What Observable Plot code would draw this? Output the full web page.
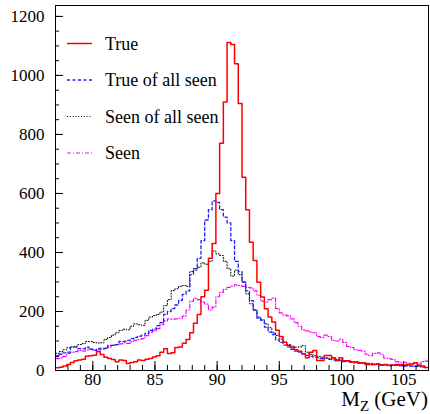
<!DOCTYPE html>
<html><head><meta charset="utf-8">
<script src="https://cdn.jsdelivr.net/npm/d3@7"></script>
<script src="https://cdn.jsdelivr.net/npm/@observablehq/plot@0.6"></script>
<style>
body{margin:0;background:#fff}
#chart{width:430px;height:414px}
</style>
</head><body><div id="chart"></div>
<script>
// Histogram binning: 100 bins from 77 to 107 GeV
const xStart = 77, xEnd = 107, binWidth = 0.3;

const trueVals = [
  9, 11, 15, 20, 27, 33, 36, 38, 48, 50,
  52, 64, 54, 45, 41, 37, 30, 36, 34, 24,
  27, 30, 36, 34, 38, 41, 46, 50, 62, 74,
  58, 60, 78, 80, 92, 105, 128, 160, 190, 250,
  272, 380, 430, 600, 770, 910, 1112, 1105, 1040, 905,
  655, 545, 435, 373, 299, 249, 209, 181, 164, 136,
  115, 96, 85, 79, 70, 65, 56, 43, 62, 68,
  34, 34, 51, 51, 43, 34, 43, 33, 33, 28,
  28, 25, 25, 20, 20, 20, 22, 18, 20, 18,
  18, 20, 20, 18, 20, 22, 26, 18, 15, 10
];
const trueOfSeenVals = [
  47, 55, 60, 62, 79, 79, 74, 74, 79, 72,
  68, 74, 76, 74, 85, 85, 88, 99, 99, 102,
  108, 112, 116, 120, 126, 136, 140, 152, 162, 190,
  200, 210, 222, 238, 258, 270, 325, 345, 380, 440,
  510, 545, 575, 570, 545, 520, 500, 440, 370, 335,
  300, 270, 237, 205, 178, 170, 147, 130, 122, 104,
  95, 86, 80, 72, 66, 62, 57, 51, 48, 45,
  44, 40, 42, 38, 36, 33, 34, 30, 30, 28,
  26, 24, 26, 22, 22, 20, 22, 18, 20, 16,
  18, 18, 16, 15, 17, 15, 14, 16, 12, 10
];
const seenOfSeenVals = [
  58, 64, 70, 77, 80, 82, 88, 91, 98, 98,
  95, 93, 94, 105, 112, 120, 128, 136, 140, 138,
  150, 158, 155, 153, 170, 181, 186, 190, 198, 220,
  240, 271, 277, 285, 288, 285, 335, 340, 350, 365,
  360, 370, 405, 395, 390, 370, 345, 320, 340, 325,
  300, 260, 226, 205, 181, 172, 158, 145, 128, 119,
  107, 96, 88, 83, 79, 80, 84, 62, 55, 50,
  48, 45, 42, 40, 40, 38, 36, 34, 32, 30,
  30, 28, 26, 25, 24, 22, 20, 20, 18, 18,
  20, 18, 17, 16, 16, 15, 14, 13, 12, 10
];
const seenVals = [
  40, 42, 48, 58, 62, 64, 68, 66, 70, 72,
  70, 70, 72, 77, 80, 85, 88, 90, 94, 92,
  98, 102, 105, 108, 118, 130, 134, 142, 155, 168,
  175, 174, 175, 177, 184, 205, 235, 245, 240, 232,
  225, 205, 215, 250, 265, 275, 282, 286, 290, 288,
  285, 282, 280, 270, 255, 235, 232, 240, 245, 210,
  195, 188, 185, 175, 162, 150, 138, 134, 130, 128,
  115, 112, 120, 115, 102, 100, 106, 95, 82, 78,
  70, 68, 66, 55, 50, 58, 60, 55, 42, 40,
  38, 30, 28, 28, 25, 22, 24, 22, 30, 32
];

const seriesNames = ["True", "True of all seen", "Seen of all seen", "Seen"];
const seriesColors = ["#ff0000", "#2020ff", "#000000", "#ff00ff"];
const seriesDash = [null, "3,2.5", "1,1.8", "4,2,1,2"];
const seriesWidth = [1.5, 1.3, 1, 1.2];

const xMajorTicks = [80, 85, 90, 95, 100, 105];
const xMinorTicks = d3.range(77, 108, 1);
const yMajorTicks = [0, 200, 400, 600, 800, 1000, 1200];
const yMinorTicks = d3.range(0, 1236, 50);
const xLabelMain = "M", xLabelSub = "Z", xLabelUnit = " (GeV)";

function histPoints(values) {
  const pts = values.map((v, i) => ({x: xStart + i * binWidth, y: v}));
  pts.push({x: xEnd, y: values[values.length - 1]});
  return pts;
}
const allValues = [trueVals, trueOfSeenVals, seenOfSeenVals, seenVals];

const lineMarks = [3, 2, 1, 0].map(s => Plot.line(histPoints(allValues[s]), {
  x: "x", y: "y", curve: "step-after",
  stroke: seriesColors[s], strokeWidth: seriesWidth[s],
  strokeDasharray: seriesDash[s]
}));

const FONT = "Liberation Serif";
const chart = Plot.plot({
  width: 430, height: 414,
  marginLeft: 55, marginRight: 2, marginTop: 5, marginBottom: 44,
  x: {domain: [xStart, xEnd]},
  y: {domain: [0, 1237]},
  style: {background: "#fff", color: "#000"},
  marks: [
    ...lineMarks,
    Plot.axisY({ticks: yMajorTicks, tickSize: 0, tickPadding: 11, tickFormat: d => String(d), label: null, fontSize: 17}),
    Plot.axisY({ticks: yMajorTicks, tickSize: -8, text: null, label: null}),
    Plot.axisY({ticks: yMinorTicks, tickSize: -4, text: null, label: null}),
    Plot.axisX({ticks: xMajorTicks, tickSize: 0, tickPadding: 2, tickFormat: d => String(d), label: null, fontSize: 17}),
    Plot.axisX({ticks: xMajorTicks, tickSize: -9, text: null, label: null}),
    Plot.axisX({ticks: xMinorTicks, tickSize: -5, text: null, label: null}),
    Plot.frame({stroke: "#000", strokeWidth: 1})
  ]
});
document.getElementById("chart").appendChild(chart);

// Legend (inside plot, top-left) and axis title
const svg = d3.select(chart);
const leg = svg.append("g").attr("text-anchor", "start");
const rowY = [43.5, 80, 116.5, 153];
seriesNames.forEach((name, i) => {
  leg.append("line").attr("x1", 67).attr("x2", 92).attr("y1", rowY[i]).attr("y2", rowY[i])
    .attr("stroke", seriesColors[i]).attr("stroke-width", seriesWidth[i])
    .attr("stroke-dasharray", seriesDash[i]);
  leg.append("text").attr("x", 105).attr("y", rowY[i]).attr("dy", "0.35em")
    .attr("fill", "#000").style("font-size", "18px").text(name);
});
const title = svg.append("text").attr("x", 428).attr("y", 406).attr("text-anchor", "end")
  .style("font-size", "21px").attr("fill", "#000");
title.append("tspan").text(xLabelMain);
title.append("tspan").style("font-size", "15px").attr("dy", 5).text(xLabelSub);
title.append("tspan").attr("dy", -5).text(xLabelUnit);

// serif font on every text element
svg.attr("font-family", FONT).style("font-family", FONT);
svg.selectAll("g").attr("font-family", FONT);
svg.selectAll("text").attr("font-family", FONT).style("font-family", FONT);
</script>
</body></html>
